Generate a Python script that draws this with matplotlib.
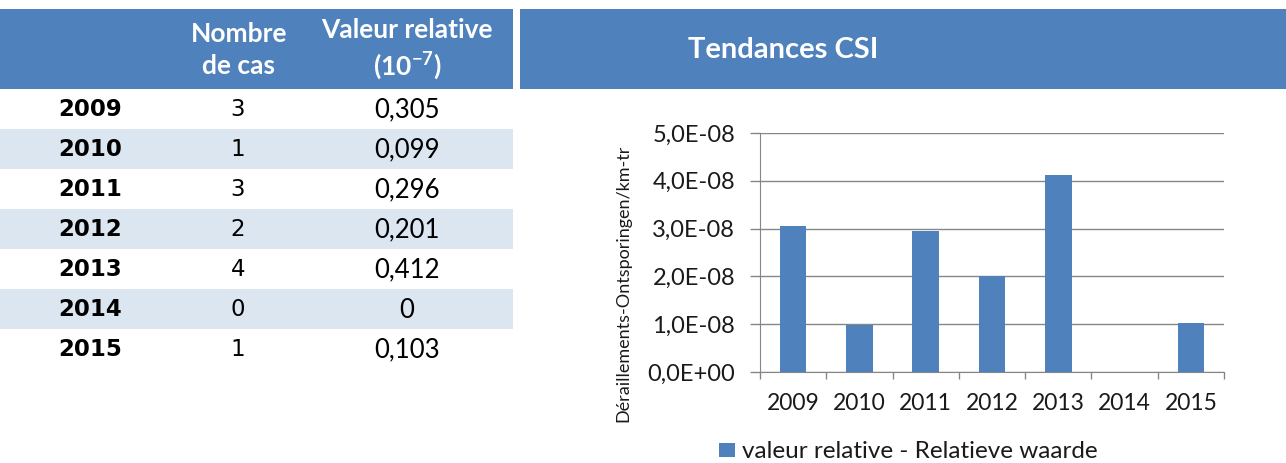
import matplotlib.pyplot as plt
from matplotlib import font_manager
from matplotlib.patches import Rectangle
from matplotlib.ticker import FuncFormatter, FixedLocator

# ------------------------- DONNEES -------------------------
annees = ["2009", "2010", "2011", "2012", "2013", "2014", "2015"]
nombre_cas = [3, 1, 3, 2, 4, 0, 1]
valeur_rel_txt = ["0,305", "0,099", "0,296", "0,201", "0,412", "0", "0,103"]
valeur_rel = [3.05e-8, 0.99e-8, 2.96e-8, 2.01e-8, 4.12e-8, 0.0, 1.03e-8]
y_ticks = [0.0, 1e-8, 2e-8, 3e-8, 4e-8, 5e-8]
# -----------------------------------------------------------

W, H = 1286, 463
BLEU = "#4F81BD"
BLEU_CLAIR = "#DCE6F1"
GRIS = "#868686"
TXT = "#1a1a1a"
FONT_CAL = "Lato"
FONT_ARIAL = "DejaVu Sans"

# police etroite pour le titre si dispo
noms = {f.name for f in font_manager.fontManager.ttflist}
if "Liberation Sans Narrow" in noms:
    FONT_TITRE, TAILLE_TITRE = "Liberation Sans Narrow", 23
else:
    FONT_TITRE, TAILLE_TITRE = FONT_CAL, 21

fig = plt.figure(figsize=(W / 100, H / 100), dpi=100)

# axe "canvas" en pixels pour le tableau et les bandeaux
canvas = fig.add_axes([0, 0, 1, 1])
canvas.set_xlim(0, W)
canvas.set_ylim(H, 0)
canvas.axis("off")

# bandeaux bleus
canvas.add_patch(Rectangle((0, 9), 513, 80, color=BLEU, lw=0))
canvas.add_patch(Rectangle((520, 9), W - 520, 80, color=BLEU, lw=0))

canvas.text(239, 50, "Nombre\nde cas", ha="center", va="center", color="white",
            fontsize=19, fontweight="bold", family=FONT_CAL, linespacing=1.35)
canvas.text(407, 50, "Valeur relative\n($\\mathregular{10^{-7}}$)", ha="center", va="center",
            color="white", fontsize=19, fontweight="bold", family=FONT_CAL, linespacing=1.3)
canvas.text(783, 50, "Tendances CSI", ha="center", va="center", color="white",
            fontsize=TAILLE_TITRE, fontweight="bold", family=FONT_TITRE)

# lignes du tableau
row_h = 40
for i, an in enumerate(annees):
    y0 = 89 + i * row_h
    if i % 2 == 1:
        canvas.add_patch(Rectangle((0, y0), 513, row_h, color=BLEU_CLAIR, lw=0))
    yc = y0 + row_h / 2
    canvas.text(90, yc, an, ha="center", va="center", fontsize=16.5,
                fontweight="bold", family=FONT_ARIAL, color="black")
    canvas.text(238, yc, str(nombre_cas[i]), ha="center", va="center",
                fontsize=16.5, family=FONT_ARIAL, color="black")
    canvas.text(407, yc + 1, valeur_rel_txt[i], ha="center", va="center",
                fontsize=18.5, family=FONT_CAL, color="black")

# ------------------------- GRAPHIQUE -------------------------
left, right, top, bottom = 760, 1224, 133, 372
ax = fig.add_axes([left / W, 1 - bottom / H, (right - left) / W, (bottom - top) / H])
x = list(range(len(annees)))
ax.bar(x, valeur_rel, width=0.4, color=BLEU, zorder=3)

ax.set_xlim(-0.5, len(annees) - 0.5)
ax.set_ylim(0, 5e-8)
ax.yaxis.set_major_locator(FixedLocator(y_ticks))
ax.yaxis.set_major_formatter(FuncFormatter(lambda v, p: f"{v:.1E}".replace(".", ",")))
ax.grid(axis="y", color=GRIS, lw=1, zorder=0)

# ticks aux frontieres des categories, labels au centre
ax.xaxis.set_major_locator(FixedLocator([i - 0.5 for i in range(len(annees) + 1)]))
ax.xaxis.set_minor_locator(FixedLocator(x))
ax.set_xticklabels([], minor=False)
ax.set_xticklabels(annees, minor=True)
ax.tick_params(axis="x", which="major", length=5, color=GRIS, width=1)
ax.tick_params(axis="x", which="minor", length=0, pad=15, labelsize=16.5, labelcolor=TXT)
ax.tick_params(axis="y", length=7, color=GRIS, width=1, pad=11, labelsize=17,
               labelcolor=TXT)
for lab in ax.get_xticklabels(minor=True) + ax.get_yticklabels():
    lab.set_family(FONT_CAL)

for s in ["top", "right"]:
    ax.spines[s].set_visible(False)
ax.spines["left"].set_color(GRIS)
ax.spines["bottom"].set_color(GRIS)

canvas.text(623, 283, "Déraillements-Ontsporingen/km-tr", rotation=90, ha="center",
            va="center", fontsize=13, family=FONT_CAL, color=TXT)

# legende
canvas.add_patch(Rectangle((719, 443), 16, 14, color=BLEU, lw=0))
canvas.text(742, 451, "valeur relative - Relatieve waarde", ha="left", va="center",
            fontsize=17.5, family=FONT_CAL, color=TXT)

fig.savefig("out.png", dpi=100)
